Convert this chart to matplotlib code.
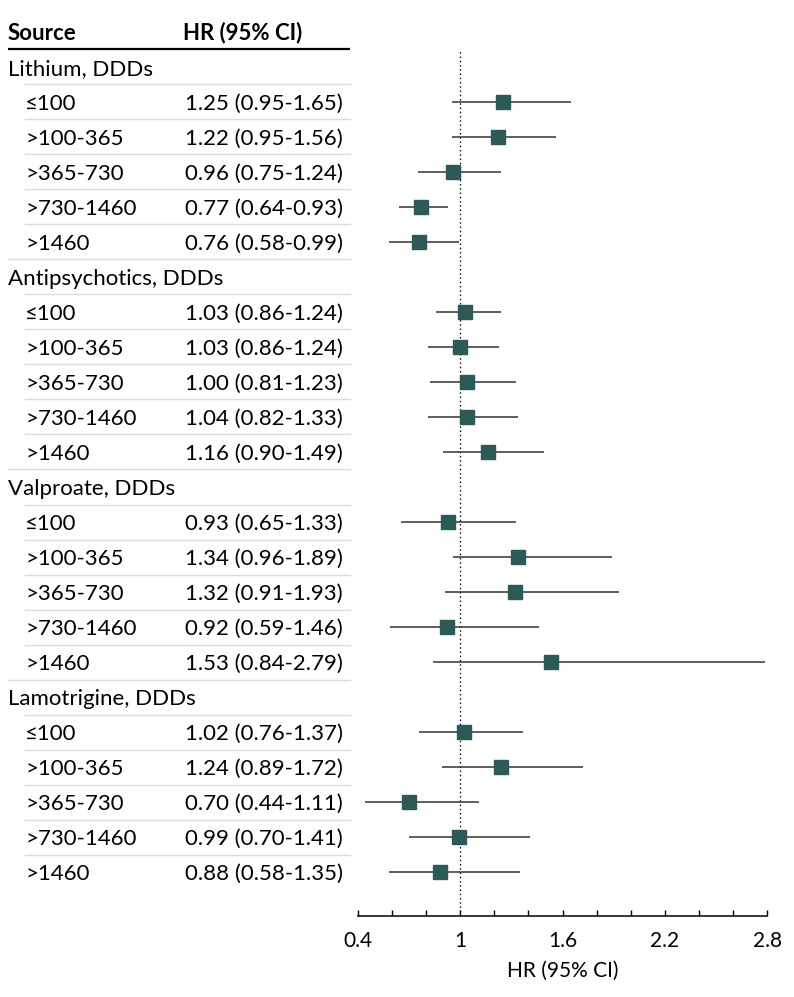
import matplotlib.pyplot as plt
import matplotlib.transforms as mtransforms
import numpy as np

plt.rcParams['font.family'] = ['Lato', 'DejaVu Sans']

groups = ['Lithium, DDDs', 'Antipsychotics, DDDs', 'Valproate, DDDs', 'Lamotrigine, DDDs']
doses = ['≤100', '>100-365', '>365-730', '>730-1460', '>1460']
hr_labels = [
    ['1.25 (0.95-1.65)', '1.22 (0.95-1.56)', '0.96 (0.75-1.24)', '0.77 (0.64-0.93)', '0.76 (0.58-0.99)'],
    ['1.03 (0.86-1.24)', '1.03 (0.86-1.24)', '1.00 (0.81-1.23)', '1.04 (0.82-1.33)', '1.16 (0.90-1.49)'],
    ['0.93 (0.65-1.33)', '1.34 (0.96-1.89)', '1.32 (0.91-1.93)', '0.92 (0.59-1.46)', '1.53 (0.84-2.79)'],
    ['1.02 (0.76-1.37)', '1.24 (0.89-1.72)', '0.70 (0.44-1.11)', '0.99 (0.70-1.41)', '0.88 (0.58-1.35)'],
]
# plotted marks
hr = [[1.25, 1.22, 0.96, 0.77, 0.76],
      [1.03, 1.00, 1.04, 1.04, 1.16],
      [0.93, 1.34, 1.32, 0.92, 1.53],
      [1.02, 1.24, 0.70, 0.99, 0.88]]
lo = [[0.95, 0.95, 0.75, 0.64, 0.58],
      [0.86, 0.81, 0.82, 0.81, 0.90],
      [0.65, 0.96, 0.91, 0.59, 0.84],
      [0.76, 0.89, 0.44, 0.70, 0.58]]
hi = [[1.65, 1.56, 1.24, 0.93, 0.99],
      [1.24, 1.23, 1.33, 1.34, 1.49],
      [1.33, 1.89, 1.93, 1.46, 2.79],
      [1.37, 1.72, 1.11, 1.41, 1.35]]
xticks = [0.4, 0.6, 0.8, 1.0, 1.2, 1.4, 1.6, 1.8, 2.0, 2.2, 2.4, 2.6, 2.8]
xticklabels = ['0.4', '', '', '1', '', '', '1.6', '', '', '2.2', '', '', '2.8']

W, H = 794, 997
fig = plt.figure(figsize=(W / 100, H / 100), dpi=100)
row_h = 35.0
y0 = 67.0
ax_bottom = 916.0
ax_top = y0 - row_h / 2
ax = fig.add_axes([358 / W, 1 - ax_bottom / H, (767 - 358) / W, (ax_bottom - ax_top) / H])
ax.set_xlim(0.4, 2.8)
ax.set_ylim((ax_bottom - y0) / row_h, -0.5)

blend = mtransforms.blended_transform_factory(fig.transFigure, ax.transData)
px = lambda x: x / W

col = '#2b5a57'
fs = 16
dy = 0.05  # nudge text slightly down
n_rows = len(groups) * 6

# header
ax.text(px(8), (33 - y0) / row_h, 'Source', transform=blend, fontsize=fs, weight='bold',
        va='center', ha='left', clip_on=False)
ax.text(px(183), (33 - y0) / row_h, 'HR (95% CI)', transform=blend, fontsize=fs, weight='bold',
        va='center', ha='left', clip_on=False)
ax.plot([px(8), px(350)], [(49 - y0) / row_h] * 2, transform=blend, color='black', lw=1.6,
        clip_on=False, solid_capstyle='butt')

for g, name in enumerate(groups):
    r = g * 6
    ax.text(px(8), r + dy, name, transform=blend, fontsize=fs, va='center', ha='left', clip_on=False)
    for k, d in enumerate(doses):
        rr = r + 1 + k
        ax.text(px(25), rr + dy, d, transform=blend, fontsize=fs, va='center', ha='left',
                clip_on=False)
        ax.text(px(185), rr + dy, hr_labels[g][k], transform=blend, fontsize=fs, va='center',
                ha='left', clip_on=False)
    rows = np.arange(r + 1, r + 6)
    ax.hlines(rows, lo[g], hi[g], color='#333333', lw=1.1)
    ax.plot(hr[g], rows, 's', ms=10.5, color=col, mec=col, zorder=3)

# separators
for i in range(n_rows - 1):
    x_start = 8 if (i + 1) % 6 == 0 else 25
    ax.plot([px(x_start), px(350)], [i + 0.5] * 2, transform=blend, color='#dcdcd2', lw=1,
            clip_on=False)

ax.axvline(1, color='black', ls=(0, (1.2, 2.2)), lw=0.9, zorder=1)

for s in ['left', 'right', 'top']:
    ax.spines[s].set_visible(False)
ax.spines['bottom'].set_linewidth(1.1)
ax.set_yticks([])
ax.set_xticks(xticks)
ax.set_xticklabels(xticklabels, fontsize=15)
ax.tick_params(axis='x', direction='in', length=4.5, width=1.0, pad=11)
ax.set_xlabel('HR (95% CI)', fontsize=15, labelpad=7)

fig.savefig('out.png', dpi=100)
